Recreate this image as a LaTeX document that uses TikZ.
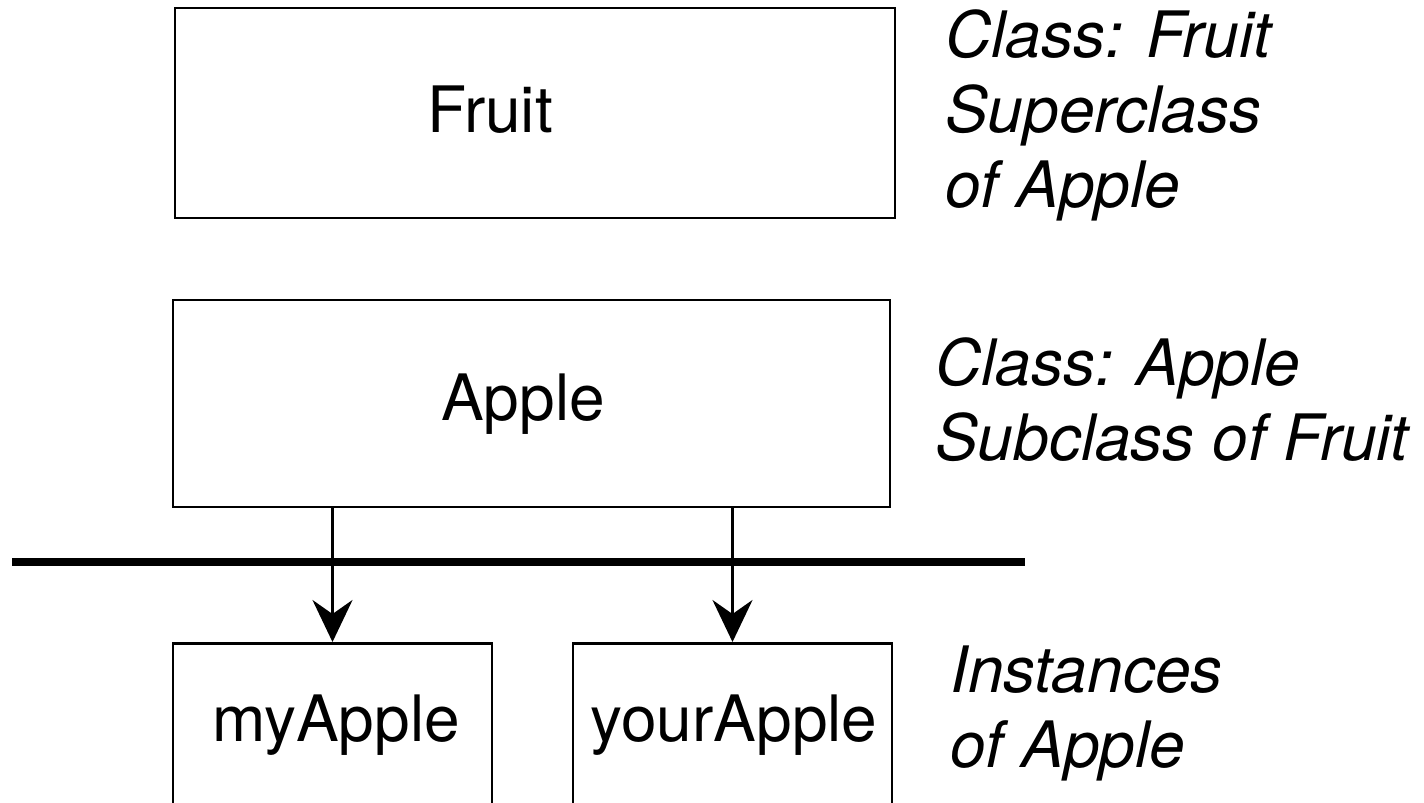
\documentclass[tikz,border=0pt]{standalone}
\usepackage{fontspec}
\setmainfont{TeX Gyre Heros}
\usetikzlibrary{arrows.meta}
\begin{document}
\begin{tikzpicture}[x=1pt,y=-1pt,
  classbox/.style={draw, rectangle, line width=2.9pt, inner sep=0pt},
  boxtext/.style={font=\fontsize{64}{75}\selectfont, inner sep=0pt, anchor=base},
  note/.style={font=\fontsize{64}{75}\selectfont\itshape, inner sep=0pt, anchor=base west},
  link/.style={line width=2.8pt, -{Stealth[length=42pt,width=40pt,inset=14pt]}},
  divider/.style={line width=8pt}]
\useasboundingbox (0,0) rectangle (1424,803);
\clip (0,0) rectangle (1424,803);

% class boxes
\node[classbox, minimum width=720pt, minimum height=210pt] (fruit) at (535,113) {};
\node[boxtext] (fruitname) at (490,132) {Fruit};
\node[classbox, minimum width=717pt, minimum height=207pt] (apple) at (531.5,403.5) {};
\node[boxtext] (applename) at (523,420) {Apple};

% instance boxes (open at the bottom edge)
\node[classbox, minimum width=319pt, minimum height=260pt, anchor=north] (my) at (332.5,642) {};
\node[boxtext] (myname) at (336,741) {myApple};
\node[classbox, minimum width=319pt, minimum height=260pt, anchor=north] (your) at (732.5,642) {};
\node[boxtext] (yourname) at (734,741) {yourApple};

% class / instance divider
\coordinate (divL) at (12,562);
\coordinate (divR) at (1025,562);
\draw[divider] (divL) -- (divR);

% instantiation arrows
\draw[link] (my.north |- apple.south) -- (my.north);
\draw[link] (your.north |- apple.south) -- (your.north);

% side notes
\node[note] (n1a) at (945,57) {Class: Fruit};
\node[note] (n1b) at (945,132) {Superclass};
\node[note] (n1c) at (945,207) {of Apple};
\node[note] (n2a) at (935,385) {Class: Apple};
\node[note] (n2b) at (935,460) {Subclass of Fruit};
\node[note] (n3a) at (950,692) {Instances};
\node[note] (n3b) at (950,767) {of Apple};
\end{tikzpicture}
\end{document}
